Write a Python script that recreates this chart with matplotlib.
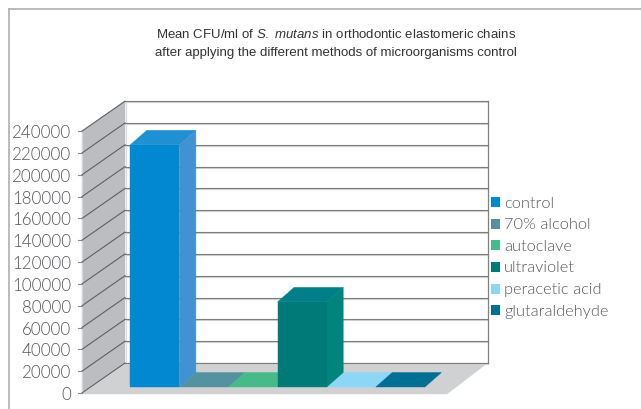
import matplotlib
matplotlib.use("Agg")
import matplotlib.pyplot as plt
from matplotlib import font_manager as fm
from matplotlib.patches import Polygon

categories = ["control", "70% alcohol", "autoclave", "ultraviolet", "peracetic acid", "glutaraldehyde"]
values = [222000, 0, 0, 78000, 0, 0]
colors = ["#0088d0", "#5592a0", "#46ba88", "#007a78", "#8ed6f5", "#006f94"]
side_colors = ["#4093d0", "#5592a0", "#46ba88", "#00857c", "#8ed6f5", "#006f94"]
top_colors = ["#1f90d2", "#5592a0", "#46ba88", "#007f88", "#8ed6f5", "#006f94"]
ticks = list(range(0, 240001, 20000))

# layout in pixels
W, H = 641, 409
FRONT_X, FRONT_Y = 82, 393
BACK_X, BACK_Y = 125, 363
RIGHT_X = 487.5
FLOOR_RIGHT = 447
PX_PER_UNIT = 21.82 / 20000
BAR_X0, BAR_W = 130.3, 49.1
BAR_BASE = 387
DEPTH_X, DEPTH_Y = 16.5, 14.5

plt.rcParams["mathtext.fontset"] = "custom"
plt.rcParams["mathtext.it"] = "Liberation Sans:italic"
plt.rcParams["mathtext.rm"] = "Liberation Sans"

# weight="light" resolves to the hairline cut, so pick the light file by name
light_files = [f.fname for f in fm.fontManager.ttflist
               if f.name == "Lato" and f.fname.endswith("Lato-Light.ttf")]
label_font = {"fname": light_files[0]} if light_files else {"family": "Lato"}

fig = plt.figure(figsize=(W / 100, H / 100), dpi=100)
ax = fig.add_axes([0, 0, 1, 1])
ax.set_xlim(0, W)
ax.set_ylim(H, 0)
ax.axis("off")


def scale(v):
    return v * PX_PER_UNIT


def poly(pts, color, z=2):
    ax.add_patch(Polygon(pts, closed=True, facecolor=color, edgecolor=color, linewidth=0.3, zorder=z))


# page frame
ax.plot([9, 9], [H, 9], color="#b5b5b5", lw=1.3)
ax.plot([9, W], [9, 9], color="#b5b5b5", lw=1.3)

# walls and floor
top = scale(ticks[-1])
poly([(FRONT_X, FRONT_Y), (BACK_X, BACK_Y), (BACK_X, BACK_Y - top), (FRONT_X, FRONT_Y - top)], "#bcbdc0", 1)
poly([(FRONT_X, FRONT_Y + 1), (BACK_X, BACK_Y), (RIGHT_X, BACK_Y), (FLOOR_RIGHT, FRONT_Y + 1)], "#d0d1d3", 1)
ax.plot([BACK_X + 0.8, BACK_X + 0.8], [BACK_Y, BACK_Y - top], color="#dcdcde", lw=0.9, zorder=1.5)
ax.plot([RIGHT_X, RIGHT_X], [BACK_Y, BACK_Y - top], color="#808080", lw=0.9, zorder=1.5)
ax.plot([FRONT_X, FRONT_X], [FRONT_Y, FRONT_Y - top], color="#d8d8da", lw=0.8, zorder=1.5)

for t in ticks:
    d = scale(t)
    ax.plot([BACK_X, RIGHT_X], [BACK_Y - d + 1, BACK_Y - d + 1], color="#d2d2d2", lw=0.8, zorder=1.4)
    ax.plot([BACK_X, RIGHT_X], [BACK_Y - d, BACK_Y - d], color="#7d7d7d", lw=0.8, zorder=1.5)
    ax.plot([FRONT_X, BACK_X], [FRONT_Y - d, BACK_Y - d], color="#5f6062", lw=0.8, zorder=1.5)
    ax.plot([FRONT_X - 4, FRONT_X], [FRONT_Y - d, FRONT_Y - d], color="#8a8a8a", lw=0.8, zorder=1.5)
    ax.text(FRONT_X - 11, FRONT_Y - d + 2, str(t), ha="right", va="center", color="#55565a",
            fontproperties=fm.FontProperties(size=12.2, **label_font))

# bars, back to front
for i, v in enumerate(values):
    x0 = BAR_X0 + i * BAR_W
    x1 = x0 + BAR_W
    h = scale(v)
    y = BAR_BASE - h
    poly([(x0, y), (x0 + DEPTH_X, y - DEPTH_Y), (x1 + DEPTH_X, y - DEPTH_Y), (x1, y)], top_colors[i], 3)
    if v > 0:
        poly([(x1, BAR_BASE), (x1 + DEPTH_X, BAR_BASE - DEPTH_Y), (x1 + DEPTH_X, y - DEPTH_Y), (x1, y)], side_colors[i], 4)
        poly([(x0, BAR_BASE), (x1, BAR_BASE), (x1, y), (x0, y)], colors[i], 5)

# legend
for i, (name, c) in enumerate(zip(categories, colors)):
    y = 202 + i * 21.65
    ax.add_patch(Polygon([(491, y - 5), (500, y - 5), (500, y + 5), (491, y + 5)], facecolor=c, edgecolor="none"))
    ax.text(504, y + 1.5, name, ha="left", va="center", color="#55565a",
            fontproperties=fm.FontProperties(size=11.8, **label_font))

# title
ax.text(336.5, 34, r"Mean CFU/ml of $\mathit{S.\ mutans}$ in orthodontic elastomeric chains",
        ha="center", va="center", fontsize=9.5, family="Liberation Sans", color="#333333")
ax.text(336, 53, "after applying the different methods of microorganisms control",
        ha="center", va="center", fontsize=9.5, family="Liberation Sans", color="#333333")

fig.savefig("out.png", dpi=100)
